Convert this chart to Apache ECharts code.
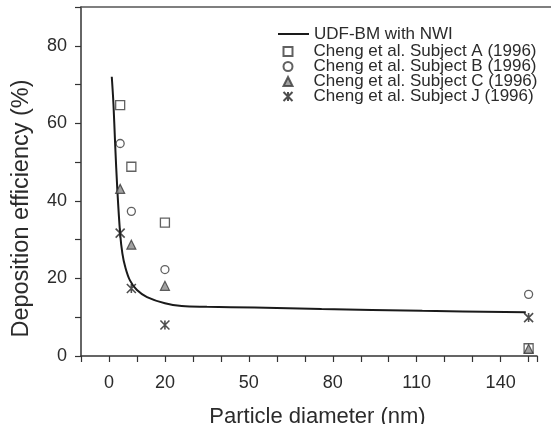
<!DOCTYPE html>
<html>
<head>
<meta charset="utf-8">
<script src="https://cdn.jsdelivr.net/npm/echarts@6/dist/echarts.min.js"></script>
<style>html,body{margin:0;padding:0;background:#fff;}#c{width:551px;height:424px;}</style>
</head>
<body>
<div id="c"></div>
<script>
// ---- data ----
const diameters = [4, 8, 20, 150];
const subjectA = [64.7, 48.8, 34.4, 2.0];
const subjectB = [54.8, 37.3, 22.3, 15.9];
const subjectC = [43.1, 28.7, 18.1, 1.8];
const subjectJ = [31.7, 17.4, 8.0, 9.9];
const modelX = [1.0, 1.6, 2.2, 3.0, 4.0, 4.8, 5.8, 7.5, 10, 13.6, 20, 26, 35, 52, 76, 112, 149];
const modelY = [72, 65, 54.7, 42.7, 31.5, 26.4, 23.0, 19.5, 17.0, 15.2, 13.6, 12.9, 12.7, 12.5, 12.1, 11.65, 11.3];
const xTickLabels = [0, 20, 50, 80, 110, 140];
const yTickLabels = [0, 20, 40, 60, 80];
const names = ['UDF-BM with NWI', 'Cheng et al. Subject A (1996)', 'Cheng et al. Subject B (1996)', 'Cheng et al. Subject C (1996)', 'Cheng et al. Subject J (1996)'];

const pair = (xs, ys) => xs.map((x, i) => [x, ys[i]]);
const FONT = 'Liberation Sans';
const TXT = '#2b2b2b';
const AX = '#333';
const starPath = 'path://M0 0L10 10M10 0L0 10M5 0L5 10';

const legendTops = [20.5, 38, 53, 68, 83];
const legends = names.map((n, i) => i === 0 ? {
  data: [{ name: n, icon: 'rect' }], left: 273, top: legendTops[i],
  itemWidth: 31, itemHeight: 2, selectedMode: false,
  itemStyle: { color: '#1a1a1a' },
  textStyle: { fontFamily: FONT, fontSize: 17, color: TXT, lineHeight: 15 }
} : {
  data: [n], left: 277.5, top: legendTops[i],
  itemWidth: 9, itemHeight: 9, selectedMode: false,
  textStyle: { fontFamily: FONT, fontSize: 17, color: TXT, lineHeight: 15, padding: [0, 0, 0, 16] }
});

const chart = echarts.init(document.getElementById('c'));
chart.setOption({
  animation: false,
  textStyle: { fontFamily: FONT },
  grid: [
    { left: 81, width: 456, top: 7, height: 349, outerBoundsMode: 'none', containLabel: false },
    { left: 81, right: 0, top: 7, height: 349, outerBoundsMode: 'none', containLabel: false }
  ],
  legend: legends,
  xAxis: [
    {
      type: 'value', gridIndex: 0, min: -10, max: 153, interval: 10,
      name: 'Particle diameter (nm)', nameLocation: 'middle', nameGap: 50,
      nameTextStyle: { fontFamily: FONT, fontSize: 22, color: TXT, padding: [0, 0, 0, 17] },
      axisLine: { onZero: false, lineStyle: { color: AX, width: 1.5 } },
      axisTick: { length: 6, lineStyle: { color: AX, width: 1.2 } },
      splitLine: { show: false },
      axisLabel: {
        margin: 18, fontFamily: FONT, fontSize: 18, color: TXT,
        formatter: v => xTickLabels.includes(v) ? String(v) : ''
      }
    },
    {
      type: 'value', gridIndex: 1, position: 'top', min: 0, max: 1,
      axisLine: { onZero: false, lineStyle: { color: '#555', width: 1.5 } },
      axisTick: { show: false }, axisLabel: { show: false }, splitLine: { show: false }
    }
  ],
  yAxis: [
    {
      type: 'value', gridIndex: 0, min: 0, max: 90, interval: 10,
      name: 'Deposition efficiency (%)', nameLocation: 'middle', nameGap: 47, nameRotate: 90,
      nameTextStyle: { fontFamily: FONT, fontSize: 23.5, color: TXT, padding: [0, 54, 0, 0] },
      axisLine: { show: true, onZero: false, lineStyle: { color: AX, width: 1.5 } },
      axisTick: { show: true, length: 6, lineStyle: { color: AX, width: 1.2 } },
      splitLine: { show: false },
      axisLabel: {
        margin: 14, fontFamily: FONT, fontSize: 18, color: TXT,
        formatter: v => yTickLabels.includes(v) ? String(v) : ''
      }
    },
    { type: 'value', gridIndex: 1, show: false, min: 0, max: 1 }
  ],
  series: [
    {
      name: names[0], type: 'line', xAxisIndex: 0, yAxisIndex: 0,
      data: pair(modelX, modelY), smooth: 0.35, symbol: 'none',
      lineStyle: { color: '#1a1a1a', width: 2 }, itemStyle: { color: '#1a1a1a' }, z: 2
    },
    {
      name: names[1], type: 'scatter', data: pair(diameters, subjectA),
      symbol: 'rect', symbolSize: 9,
      itemStyle: { color: '#fff', borderColor: '#3a3a3a', borderWidth: 1.3 }, z: 3
    },
    {
      name: names[2], type: 'scatter', data: pair(diameters, subjectB),
      symbol: 'circle', symbolSize: 8,
      itemStyle: { color: '#fff', borderColor: '#3a3a3a', borderWidth: 1.3 }, z: 3
    },
    {
      name: names[3], type: 'scatter', data: pair(diameters, subjectC),
      symbol: 'triangle', symbolSize: 9,
      itemStyle: { color: '#8a8a8a', borderColor: '#3a3a3a', borderWidth: 1.2 }, z: 4
    },
    {
      name: names[4], type: 'scatter', data: pair(diameters, subjectJ),
      symbol: starPath, symbolSize: 9,
      itemStyle: { color: 'transparent', borderColor: '#222', borderWidth: 1.6 }, z: 4
    }
  ]
});
</script>
</body>
</html>
